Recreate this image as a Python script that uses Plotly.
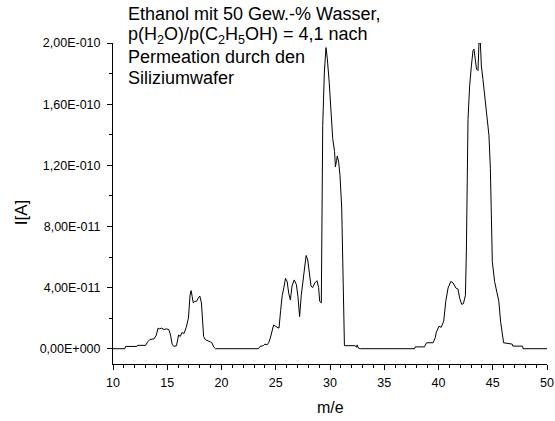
import plotly.graph_objects as go

# m/e values and ion current (in units of 1e-11 A)
mass_to_charge = [
    10.0, 11.1, 11.15, 12.2, 12.25, 13.0, 13.2, 13.4, 13.8, 14.0, 14.15, 14.3, 14.5, 14.7, 14.9,
    15.15, 15.3, 15.45, 15.6, 15.85, 16.05, 16.2, 16.35, 16.55, 16.75, 16.95, 17.1, 17.2, 17.3,
    17.4, 17.55, 17.7, 17.85, 18.0, 18.15, 18.25, 18.35, 18.5, 18.85, 19.1, 19.3, 19.45,
    23.4, 23.55, 23.85, 24.0, 24.2, 24.35, 24.5, 24.7, 24.8, 25.0, 25.3, 25.45, 25.6, 25.75,
    25.9, 26.05, 26.2, 26.35, 26.5, 26.7, 26.9, 27.05, 27.15, 27.2, 27.35, 27.6, 27.8, 27.95,
    28.1, 28.25, 28.4, 28.6, 28.8, 28.95, 29.05, 29.2, 29.33, 29.48, 29.63, 29.75, 29.93,
    30.06, 30.25, 30.42, 30.5, 30.6, 30.67, 30.8, 30.92, 31.08, 31.23, 31.33, 32.3, 32.45,
    32.5, 32.6, 32.8, 37.8, 37.85, 38.7, 38.9, 39.5, 39.7, 39.8, 40.05, 40.25, 40.48, 40.67,
    40.88, 41.13, 41.34, 41.6, 41.8, 41.95, 42.14, 42.3, 42.48, 42.57, 42.72, 42.87, 43.03,
    43.18, 43.27, 43.4, 43.5, 43.64, 43.73, 43.86, 43.95, 44.1, 44.25, 44.46, 44.65, 44.78,
    44.87, 44.96, 45.17, 45.38, 45.56, 45.72, 45.87, 46.0, 46.8, 46.85, 47.75, 47.8, 50.0,
]
current_e11 = [
    0.0, 0.0, 0.15, 0.15, 0.22, 0.22, 0.45, 0.6, 0.65, 0.9, 1.35, 1.3, 1.35, 1.25, 1.3,
    1.25, 0.9, 0.3, 0.15, 0.2, 0.9, 0.8, 1.05, 1.0, 1.4, 2.0, 3.5, 3.8, 3.4,
    3.0, 3.1, 3.1, 3.3, 3.45, 3.0, 2.0, 0.8, 0.6, 0.5, 0.4, 0.1, 0.0,
    0.0, 0.15, 0.2, 0.3, 0.25, 0.4, 0.7, 1.3, 1.55, 1.45, 1.35, 2.5, 3.5, 4.0,
    4.6, 4.4, 3.6, 3.2, 4.1, 4.5, 4.2, 3.4, 2.2, 2.1, 3.5, 5.0, 6.1, 5.8,
    4.9, 4.1, 4.0, 4.3, 4.45, 4.0, 3.1, 3.0, 14.6, 18.1, 19.7, 19.0, 17.4,
    15.9, 13.75, 12.9, 11.9, 12.3, 12.6, 12.2, 11.35, 9.2, 3.1, 0.2, 0.2, 0.1,
    0.25, 0.05, 0.0, 0.0, 0.12, 0.12, 0.39, 0.39, 0.72, 1.08, 1.47, 1.4, 1.8, 3.1,
    3.97, 4.4, 4.3, 3.97, 3.9, 3.3, 2.9, 2.95, 3.5, 6.4, 15.0, 17.2, 18.5,
    19.5, 19.6, 19.0, 18.3, 18.2, 20.0, 20.0, 18.5, 17.6, 16.7, 15.3, 13.96, 11.8,
    8.5, 5.7, 4.4, 3.75, 3.1, 1.8, 0.93, 0.39, 0.3, 0.17, 0.17, 0.0, 0.0,
]

y_tick_vals = [0, 4, 8, 12, 16, 20]
y_tick_text = ["0,00E+000", "4,00E-011", "8,00E-011", "1,20E-010", "1,60E-010", "2,00E-010"]
y_minor_vals = [2, 6, 10, 14, 18]

label_lines = [
    "Ethanol mit 50 Gew.-% Wasser,",
    "p(H<sub>2</sub>O)/p(C<sub>2</sub>H<sub>5</sub>OH) = 4,1 nach",
    "Permeation durch den",
    "Siliziumwafer",
]
# vertical centres of the label lines, in paper units
label_line_y = [1.0903, 1.0230, 0.9564, 0.8910]

FONT = "Liberation Sans, Arial, sans-serif"

fig = go.Figure()
fig.add_trace(go.Scatter(
    x=mass_to_charge, y=current_e11, mode="lines",
    line=dict(color="black", width=1), showlegend=False,
))

annotations = []
for txt, yy in zip(label_lines, label_line_y):
    annotations.append(dict(
        text=txt, xref="paper", yref="paper", x=0.031, y=yy,
        xanchor="left", yanchor="middle", align="left", showarrow=False,
        font=dict(size=18, family=FONT, color="black")))
annotations += [
    dict(text="m/e", xref="paper", yref="paper", x=0.5, y=-0.137,
         xanchor="center", yanchor="middle", showarrow=False,
         font=dict(size=16, family=FONT, color="black")),
    dict(text="I[A]", xref="paper", yref="paper", x=-0.2092, y=(364 - 212) / 321,
         xanchor="center", yanchor="middle", showarrow=False, textangle=-90,
         font=dict(size=17, family=FONT, color="black")),
]

fig.update_layout(
    width=555, height=421,
    margin=dict(l=112.5, r=7.5, t=43, b=57, autoexpand=False),
    paper_bgcolor="white", plot_bgcolor="white",
    font=dict(family=FONT, color="black", size=12),
    xaxis=dict(
        range=[10, 50], tickmode="linear", tick0=10, dtick=5,
        showline=True, linecolor="black", linewidth=1,
        ticks="outside", ticklen=5, tickcolor="black", tickwidth=1,
        showgrid=False, zeroline=False, ticklabeloverflow="allow",
        ticklabelstandoff=2,
        minor=dict(ticks="outside", ticklen=3, tickcolor="black", dtick=1, tick0=10, showgrid=False),
        tickfont=dict(size=12.5, family=FONT, color="black"),
    ),
    yaxis=dict(
        range=[-1, 20], tickmode="array", tickvals=y_tick_vals, ticktext=y_tick_text,
        showline=True, linecolor="black", linewidth=1,
        ticks="outside", ticklen=5, tickcolor="black", tickwidth=1,
        showgrid=False, zeroline=False, ticklabelstandoff=4,
        minor=dict(ticks="outside", ticklen=3, tickcolor="black", tickmode="array",
                   tickvals=y_minor_vals, showgrid=False),
        tickfont=dict(size=12.5, family=FONT, color="black"),
    ),
    annotations=annotations,
)

fig.write_html(
    "out.html",
    config={"displayModeBar": False},
    post_script="document.body.style.margin='0';document.body.style.overflow='hidden';",
)
